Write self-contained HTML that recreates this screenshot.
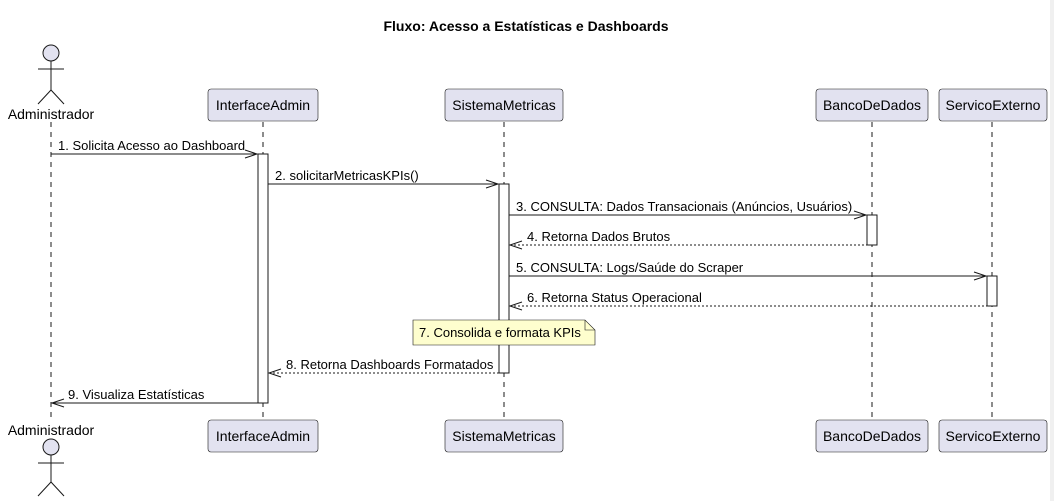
<!DOCTYPE html>
<html><head><meta charset="utf-8"><style>
html,body{margin:0;padding:0;background:#fff;}
svg{display:block;font-family:"Liberation Sans",sans-serif;}
</style></head><body>
<svg width="1054" height="501" viewBox="0 0 1054 501" xmlns="http://www.w3.org/2000/svg">
<rect x="1050" y="0" width="4" height="501" fill="#f0f0f0"/>
<text x="526" y="31" text-anchor="middle" font-size="14" font-weight="bold">Fluxo: Acesso a Estatísticas e Dashboards</text>
<g stroke="#181818" stroke-width="1" stroke-dasharray="5,5" fill="none">
<line x1="51" y1="122" x2="51" y2="420"/>
<line x1="263" y1="122" x2="263" y2="420"/>
<line x1="504" y1="122" x2="504" y2="420"/>
<line x1="872" y1="122" x2="872" y2="420"/>
<line x1="992" y1="122" x2="992" y2="420"/>
</g>
<g stroke="#181818" fill="none" stroke-width="1">
<circle cx="51" cy="53" r="8" fill="#e2e2f0"/>
<line x1="51" y1="61" x2="51" y2="90"/><line x1="38" y1="69" x2="64" y2="69"/>
<line x1="51" y1="90" x2="38" y2="104"/><line x1="51" y1="90" x2="64" y2="104"/>
<circle cx="51" cy="447" r="8" fill="#e2e2f0"/>
<line x1="51" y1="455" x2="51" y2="482"/><line x1="38" y1="463" x2="64" y2="463"/>
<line x1="51" y1="482" x2="38" y2="496"/><line x1="51" y1="482" x2="64" y2="496"/>
</g>
<g font-size="14" text-anchor="middle" fill="#000">
<text x="51" y="119">Administrador</text>
<text x="51" y="435">Administrador</text>
</g>
<g fill="#e2e2f0" stroke="#181818" stroke-width="0.6">
<rect x="208" y="89" width="110" height="32" rx="3"/>
<rect x="445" y="89" width="118" height="32" rx="3"/>
<rect x="816" y="89" width="112" height="32" rx="3"/>
<rect x="939" y="89" width="108" height="32" rx="3"/>
<rect x="208" y="420" width="110" height="32" rx="3"/>
<rect x="445" y="420" width="118" height="32" rx="3"/>
<rect x="816" y="420" width="112" height="32" rx="3"/>
<rect x="939" y="420" width="108" height="32" rx="3"/>
</g>
<g font-size="14" text-anchor="middle" fill="#000">
<text x="263" y="110">InterfaceAdmin</text>
<text x="504" y="110">SistemaMetricas</text>
<text x="872" y="110">BancoDeDados</text>
<text x="993" y="110">ServicoExterno</text>
<text x="263" y="441">InterfaceAdmin</text>
<text x="504" y="441">SistemaMetricas</text>
<text x="872" y="441">BancoDeDados</text>
<text x="993" y="441">ServicoExterno</text>
</g>
<g fill="#fff" stroke="#181818" stroke-width="1">
<rect x="258" y="154" width="10" height="249"/>
<rect x="499" y="184" width="10" height="189"/>
<rect x="867" y="215" width="10" height="30"/>
<rect x="987" y="276" width="10" height="30"/>
</g>
<g stroke="#181818" stroke-width="1" fill="none">
<line x1="51" y1="154" x2="257" y2="154"/><polyline points="245,150 257,154 245,158"/>
<line x1="268" y1="184" x2="498" y2="184"/><polyline points="486,180 498,184 486,188"/>
<line x1="509" y1="215" x2="866" y2="215"/><polyline points="854,211 866,215 854,219"/>
<line x1="510" y1="245" x2="867" y2="245" stroke-dasharray="2,2"/><polyline points="522,241 510,245 522,249"/>
<line x1="509" y1="276" x2="986" y2="276"/><polyline points="974,272 986,276 974,280"/>
<line x1="510" y1="306" x2="987" y2="306" stroke-dasharray="2,2"/><polyline points="522,302 510,306 522,310"/>
<line x1="269" y1="373" x2="499" y2="373" stroke-dasharray="2,2"/><polyline points="281,369 269,373 281,377"/>
<line x1="52" y1="403" x2="258" y2="403"/><polyline points="64,399 52,403 64,407"/>
</g>
<g font-size="13" fill="#000">
<text x="58" y="150">1. Solicita Acesso ao Dashboard</text>
<text x="275" y="180">2. solicitarMetricasKPIs()</text>
<text x="516" y="211">3. CONSULTA: Dados Transacionais (Anúncios, Usuários)</text>
<text x="527" y="241">4. Retorna Dados Brutos</text>
<text x="516" y="272">5. CONSULTA: Logs/Saúde do Scraper</text>
<text x="527" y="302">6. Retorna Status Operacional</text>
<text x="286" y="369">8. Retorna Dashboards Formatados</text>
<text x="68" y="399">9. Visualiza Estatísticas</text>
</g>
<path d="M413,320 L585,320 L595,330 L595,345 L413,345 Z" fill="#fefece" stroke="#181818" stroke-width="0.6"/>
<path d="M585,320 L585,330 L595,330" fill="none" stroke="#181818" stroke-width="0.6"/>
<text x="419" y="337" font-size="13" fill="#000">7. Consolida e formata KPIs</text>
</svg>
</body></html>
